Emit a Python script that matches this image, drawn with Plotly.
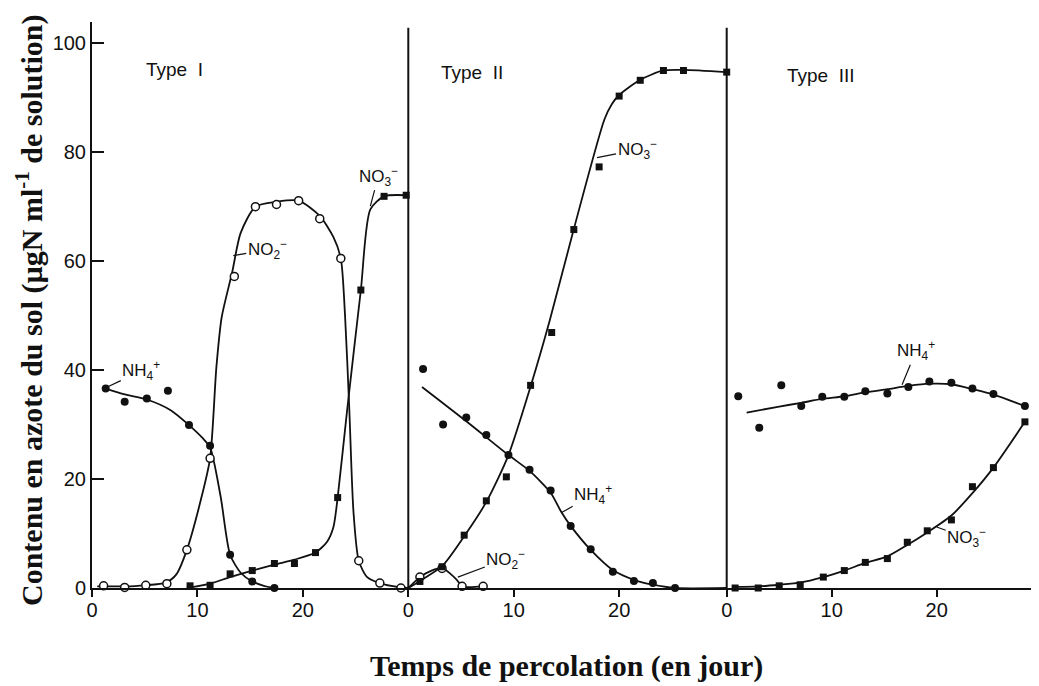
import plotly.graph_objects as go

# ---------------- Data ----------------
# Panel "Type I"
p1_nh4_day = [1.3, 3.1, 5.2, 7.2, 9.2, 11.2, 13.1, 15.2, 17.3]
p1_nh4_val = [36.6, 34.2, 34.8, 36.2, 29.9, 26.1, 6.1, 1.2, 0.0]
p1_no2_day = [1.1, 3.1, 5.1, 7.1, 9.0, 11.2, 13.5, 15.5, 17.5, 19.6, 21.6, 23.6, 25.3, 27.3, 29.3]
p1_no2_val = [0.4, 0.1, 0.5, 0.8, 7.0, 23.8, 57.2, 70.0, 70.4, 71.1, 67.8, 60.5, 5.0, 0.9, 0.0]
p1_no3_day = [9.3, 11.2, 13.1, 15.2, 17.3, 19.2, 21.2, 23.3, 25.5, 27.7, 29.8]
p1_no3_val = [0.4, 0.5, 2.6, 3.2, 4.5, 4.5, 6.5, 16.6, 54.7, 71.9, 72.1]

# hand-drawn fitted curves, Type I
p1_nh4_fit_day = [1.3, 3.0, 5.2, 7.5, 9.2, 10.5, 11.2, 12.2, 13.1, 14.1, 15.2, 16.3, 17.3]
p1_nh4_fit_val = [36.6, 35.6, 34.6, 32.6, 29.9, 27.5, 25.8, 16.8, 6.1, 2.8, 1.2, 0.4, 0.0]
p1_no2_fit_day = [0.5, 3.0, 5.0, 7.0, 8.0, 9.0, 10.3, 11.2, 11.8, 12.3, 13.3, 14.1, 15.5, 17.5, 19.6,
                  21.6, 22.9, 23.6, 24.0, 24.4, 24.8, 25.3, 26.1, 27.3, 29.3, 30.0]
p1_no2_fit_val = [0.3, 0.3, 0.5, 1.0, 2.5, 7.0, 16.0, 23.8, 40.6, 49.7, 58.0, 65.2, 70.0, 70.9, 71.1,
                  68.3, 64.4, 60.5, 50.0, 33.0, 14.0, 5.0, 2.0, 0.9, 0.1, 0.0]
p1_no3_fit_day = [9.0, 11.2, 13.1, 15.2, 17.3, 19.2, 21.2, 22.3, 22.9, 23.3, 24.2, 25.5, 26.4, 27.7, 29.8]
p1_no3_fit_val = [0.0, 0.8, 2.0, 3.2, 4.3, 5.2, 6.5, 8.5, 11.2, 16.6, 32.7, 54.7, 69.5, 71.9, 72.1]

# Panel "Type II"
p2_nh4_day = [1.4, 3.3, 5.5, 7.4, 9.5, 11.5, 13.5, 15.4, 17.3, 19.4, 21.4, 23.2, 25.3]
p2_nh4_val = [40.2, 30.0, 31.3, 28.1, 24.4, 21.7, 17.9, 11.4, 7.1, 3.0, 1.3, 0.9, 0.0]
p2_no3_day = [1.1, 3.2, 5.3, 7.4, 9.3, 11.6, 13.6, 15.7, 18.1, 20.0, 22.0, 24.2, 26.1, 30.2]
p2_no3_val = [1.2, 3.9, 9.7, 16.0, 20.4, 37.2, 46.9, 65.8, 77.3, 90.3, 93.2, 95.0, 95.0, 94.7]
p2_no2_day = [1.1, 3.2, 5.1, 7.1]
p2_no2_val = [2.0, 3.6, 0.3, 0.3]

p2_nh4_fit_day = [1.3, 5.5, 9.5, 11.5, 13.5, 14.5, 15.4, 17.3, 19.4, 21.4, 23.2, 25.3, 30.2]
p2_nh4_fit_val = [36.9, 30.6, 24.4, 21.5, 17.5, 14.0, 11.4, 7.0, 3.3, 1.5, 0.6, 0.0, 0.0]
p2_no3_fit_day = [0.0, 1.1, 3.2, 5.3, 7.4, 9.5, 11.6, 13.4, 15.7, 18.6, 19.3, 20.0, 22.0, 24.2, 26.1, 30.2]
p2_no3_fit_val = [0.0, 1.3, 4.0, 9.5, 15.8, 24.4, 37.0, 49.0, 65.9, 86.0, 88.8, 90.5, 93.3, 95.0, 95.1, 94.7]
p2_no2_fit_day = [0.0, 1.1, 2.2, 3.2, 4.0, 4.6, 5.1, 7.1]
p2_no2_fit_val = [0.0, 2.0, 3.2, 3.7, 2.6, 1.5, 0.3, 0.3]

# Panel "Type III"
p3_nh4_day = [1.1, 3.1, 5.2, 7.1, 9.1, 11.2, 13.2, 15.3, 17.3, 19.3, 21.4, 23.4, 25.4, 28.4]
p3_nh4_val = [35.2, 29.4, 37.2, 33.4, 35.1, 35.1, 36.1, 35.7, 36.9, 37.9, 37.7, 36.6, 35.6, 33.4]
p3_no3_day = [0.8, 3.0, 5.0, 7.0, 9.2, 11.2, 13.2, 15.3, 17.2, 19.1, 21.4, 23.4, 25.4, 28.4]
p3_no3_val = [0.0, 0.0, 0.4, 0.6, 2.0, 3.2, 4.7, 5.4, 8.4, 10.5, 12.5, 18.6, 22.1, 30.5]

p3_nh4_fit_day = [1.9, 5.0, 7.1, 9.1, 11.2, 13.2, 15.3, 17.3, 19.3, 21.4, 23.4, 25.4, 28.4]
p3_nh4_fit_val = [32.2, 33.3, 34.0, 34.7, 35.2, 35.9, 36.5, 37.1, 37.5, 37.4, 36.5, 35.5, 33.4]
p3_no3_fit_day = [0.8, 3.0, 5.0, 7.0, 9.2, 11.2, 13.2, 15.3, 17.2, 19.1, 21.4, 23.4, 25.4, 28.4]
p3_no3_fit_val = [0.2, 0.3, 0.6, 1.0, 2.0, 3.2, 4.6, 5.8, 7.9, 10.2, 13.3, 17.4, 22.1, 30.5]

x_tickvals = [0, 10, 20]
x_ticktext = ["0", "10", "20"]
y_tickvals = [0, 20, 40, 60, 80, 100]
panel_titles = ["Type  I", "Type  II", "Type  III"]

# ---------------- Figure ----------------
BLACK = "#111111"
fig = go.Figure()

def curve(xs, ys, xa, dash="solid"):
    fig.add_trace(go.Scatter(x=xs, y=ys, mode="lines", xaxis=xa, yaxis="y",
                             line=dict(color=BLACK, width=1.8, shape="spline", smoothing=0.7, dash=dash),
                             hoverinfo="skip", showlegend=False, cliponaxis=False))

def pts(xs, ys, xa, kind):
    if kind == "nh4":
        m = dict(symbol="circle", size=8, color=BLACK)
    elif kind == "no3":
        m = dict(symbol="square", size=7, color=BLACK)
    else:
        m = dict(symbol="circle", size=8, color="white", line=dict(color=BLACK, width=1.5))
    fig.add_trace(go.Scatter(x=xs, y=ys, mode="markers", xaxis=xa, yaxis="y",
                             marker=m, showlegend=False, cliponaxis=False))

# Type I
curve(p1_nh4_fit_day, p1_nh4_fit_val, "x")
curve(p1_no2_fit_day, p1_no2_fit_val, "x")
curve(p1_no3_fit_day, p1_no3_fit_val, "x")
pts(p1_no2_day, p1_no2_val, "x", "no2")
pts(p1_nh4_day, p1_nh4_val, "x", "nh4")
pts(p1_no3_day, p1_no3_val, "x", "no3")
# Type II
curve(p2_nh4_fit_day, p2_nh4_fit_val, "x2")
curve(p2_no3_fit_day, p2_no3_fit_val, "x2")
curve(p2_no2_fit_day, p2_no2_fit_val, "x2")
pts(p2_no2_day, p2_no2_val, "x2", "no2")
pts(p2_nh4_day, p2_nh4_val, "x2", "nh4")
pts(p2_no3_day, p2_no3_val, "x2", "no3")
# Type III
curve(p3_nh4_fit_day, p3_nh4_fit_val, "x3")
curve(p3_no3_fit_day, p3_no3_fit_val, "x3")
pts(p3_nh4_day, p3_nh4_val, "x3", "nh4")
pts(p3_no3_day, p3_no3_val, "x3", "no3")

# the page puts the figure 8 px in from the window's top-left corner
W, H = 1031, 678
L, R, T, B = 84, 4, 14, 98
pw = W - L - R          # 943
ph = H - T - B          # 566
PX0, PY1 = 92, 588      # plot area left / bottom in window pixels
d1 = (408.3 - PX0) / pw
d2 = (726.7 - PX0) / pw

tickfont = dict(family="Liberation Sans, Arial, sans-serif", size=20, color=BLACK)
xcommon = dict(tickvals=x_tickvals, ticktext=x_ticktext, ticks="outside", ticklen=7, tickwidth=2,
               tickcolor=BLACK, showline=True, linewidth=2, linecolor=BLACK, showgrid=False,
               zeroline=False, anchor="y", tickfont=tickfont, ticklabelstandoff=-4)

fig.update_layout(
    width=W, height=H,
    margin=dict(l=L, r=R, t=T, b=B),
    plot_bgcolor="white", paper_bgcolor="white",
    xaxis=dict(domain=[0, d1], range=[0, 30.0], **xcommon),
    xaxis2=dict(domain=[d1, d2], range=[0, 30.2], **xcommon),
    xaxis3=dict(domain=[d2, 1], range=[0, 29.36], **xcommon),
    yaxis=dict(domain=[0, 1], range=[0, 103.9], tickvals=y_tickvals, ticks="inside", ticklen=12,
               tickwidth=2, tickcolor=BLACK, showline=True, linewidth=2, linecolor=BLACK,
               showgrid=False, zeroline=False, anchor="x", tickfont=tickfont),
    showlegend=False,
)

# panel dividers
for d in (d1, d2):
    fig.add_shape(type="line", xref="paper", yref="paper", x0=d, x1=d, y0=0, y1=0.99,
                  line=dict(color=BLACK, width=2))

lab_font = dict(family="Liberation Sans, Arial, sans-serif", size=17, color=BLACK)
# panel titles
for xa, xpos, ypos, txt in (("x", 7.8, 95.1, panel_titles[0]),
                            ("x2", 6.0, 94.7, panel_titles[1]),
                            ("x3", 9.0, 94.0, panel_titles[2])):
    fig.add_annotation(xref=xa, yref="y", x=xpos, y=ypos, text=txt, showarrow=False,
                       font=dict(family="Liberation Sans, Arial, sans-serif", size=19, color=BLACK))

NH4 = "NH<sub>4</sub><sup>+</sup>"
NO2 = "NO<sub>2</sub><sup>−</sup>"
NO3 = "NO<sub>3</sub><sup>−</sup>"
species_labels = [
    ("x", 1.45, 36.9, NH4, 34, -16),
    ("x", 13.4, 61.0, NO2, 34, -6),
    ("x", 26.4, 70.1, NO3, 8, -30),
    ("x2", 17.9, 79.0, NO3, 40, -8),
    ("x2", 14.5, 13.8, NH4, 32, -18),
    ("x2", 4.7, 2.0, NO2, 48, -18),
    ("x3", 16.7, 37.3, NH4, 14, -34),
    ("x3", 20.0, 11.2, NO3, 30, 11),
]
for xa, xx, yy, txt, ax, ay in species_labels:
    fig.add_annotation(xref=xa, yref="y", x=xx, y=yy, text=txt, showarrow=True, arrowhead=0,
                       arrowwidth=1.2, arrowcolor=BLACK, ax=ax, ay=ay, standoff=0,
                       font=lab_font)

# axis titles
title_font = dict(family="Liberation Serif, Times New Roman, serif", size=30, color=BLACK)
fig.add_annotation(xref="paper", yref="paper", x=(566 - PX0) / pw, y=(PY1 - 666) / ph,
                   text="<b>Temps de percolation (en jour)</b>", showarrow=False, font=title_font,
                   xanchor="center", yanchor="middle")
fig.add_annotation(xref="paper", yref="paper", x=(29 - PX0) / pw, y=(PY1 - 310) / ph,
                   text="<b>Contenu en azote du sol (µgN ml<sup>-1</sup> de solution)</b>",
                   showarrow=False, font=title_font, textangle=-90, xanchor="center", yanchor="middle")

fig.write_html("out.html")
